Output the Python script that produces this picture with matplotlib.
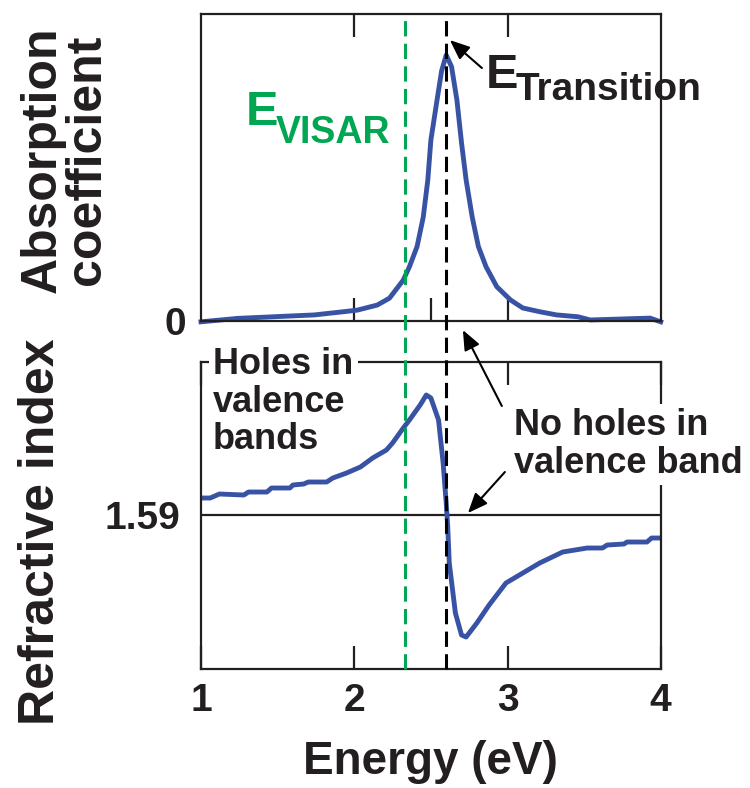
import matplotlib
matplotlib.use('Agg')
import matplotlib.pyplot as plt
from matplotlib.lines import Line2D
from matplotlib.transforms import blended_transform_factory

plt.rcParams['font.family'] = ['Liberation Sans', 'DejaVu Sans']
plt.rcParams['font.weight'] = 'bold'

BLUE = '#3953a4'
GREEN = '#00a651'
INK = '#231f20'

# absorption coefficient (arb. units)
abs_energy = [1.0, 1.24, 1.74, 1.93, 2.02, 2.15, 2.23, 2.32, 2.36, 2.41, 2.45, 2.48,
              2.50, 2.54, 2.57, 2.60, 2.635, 2.67, 2.70, 2.73, 2.77, 2.81, 2.86, 2.93,
              3.02, 3.10, 3.21, 3.32, 3.46, 3.54, 3.93, 4.0]
abs_value = [-0.003, 0.010, 0.023, 0.035, 0.041, 0.060, 0.086, 0.154, 0.204, 0.280, 0.390, 0.530,
             0.680, 0.830, 0.940, 1.000, 0.956, 0.830, 0.670, 0.530, 0.390, 0.280, 0.204, 0.129,
             0.079, 0.049, 0.035, 0.023, 0.016, 0.004, 0.011, -0.003]

# refractive index
n_energy = [1.0, 1.06, 1.12, 1.28, 1.31, 1.43, 1.46, 1.58, 1.60, 1.67, 1.70, 1.82, 1.86,
            1.95, 2.04, 2.12, 2.21, 2.25, 2.32, 2.36, 2.43, 2.47, 2.50, 2.55, 2.58, 2.60,
            2.61, 2.62, 2.66, 2.70, 2.73, 2.80, 2.88, 2.99, 3.10, 3.21, 3.36, 3.52, 3.62,
            3.65, 3.76, 3.78, 3.91, 3.94, 4.0]
n_value = [1.607, 1.607, 1.611, 1.610, 1.613, 1.613, 1.617, 1.617, 1.620, 1.621, 1.623, 1.623, 1.627,
           1.632, 1.638, 1.647, 1.655, 1.662, 1.677, 1.685, 1.700, 1.710, 1.707, 1.685, 1.642, 1.602,
           1.578, 1.542, 1.492, 1.470, 1.468, 1.482, 1.500, 1.522, 1.532, 1.542, 1.553, 1.557, 1.557,
           1.560, 1.561, 1.563, 1.563, 1.567, 1.567]

n_ref = 1.59
e_visar = 2.33
e_transition = 2.60

fig = plt.figure(figsize=(7.5, 7.88), dpi=100)
ax1 = fig.add_axes([0.268, 0.5926, 0.613, 0.3896])
ax2 = fig.add_axes([0.268, 0.151, 0.613, 0.3896])

for ax in (ax1, ax2):
    for sp in ax.spines.values():
        sp.set_linewidth(1.6)
        sp.set_color(INK)
    ax.set_xlim(1, 4)
    ax.set_xticks([2, 3])
    ax.tick_params(axis='x', which='both', direction='in', length=16.5, width=1.6,
                   top=True, bottom=True, color=INK)
    ax.tick_params(axis='y', length=0, labelsize=28, labelcolor=INK)

# top panel
ax1.plot(abs_energy, abs_value, color=BLUE, lw=3.5, clip_on=False, zorder=2,
         solid_joinstyle='round')
ax1.set_ylim(0, 1.154)
ax1.set_xticks([2.5], minor=True)
ax1.tick_params(axis='x', which='minor', top=False)
ax1.tick_params(axis='x', labelbottom=False)
ax1.set_yticks([0])
ax1.set_yticklabels(['0'])
ax1.tick_params(axis='y', pad=11)

# bottom panel
ax2.plot(n_energy, n_value, color=BLUE, lw=3.5, zorder=2, solid_joinstyle='round')
ax2.axhline(n_ref, color=INK, lw=1.6, zorder=1.5)
ax2.set_ylim(1.436, 1.743)
ax2.set_xticks([1, 2, 3, 4])
ax2.set_xticklabels(['1', '2', '3', '4'])
ax2.tick_params(axis='x', labelsize=28, pad=10, labelcolor=INK)
ax2.set_yticks([n_ref])
ax2.set_yticklabels(['1.59'])
ax2.tick_params(axis='y', pad=15)

# vertical dashed markers through both panels
tr = blended_transform_factory(ax1.transData, fig.transFigure)
fig.add_artist(Line2D([e_visar, e_visar], [0.151, 0.9822], transform=tr, color=GREEN,
                      lw=2.2, dashes=(5, 2.4)))
fig.add_artist(Line2D([e_transition, e_transition], [0.151, 0.9822], transform=tr, color='black',
                      lw=2.2, dashes=(5, 2.4)))

# labels
fig.text(0.087, 0.797, 'Absorption\ncoefficient', rotation=90, ha='center', va='center',
         fontsize=36, linespacing=0.95, color=INK)
fig.text(0.055, 0.325, 'Refractive index', rotation=90, ha='center', va='center',
         fontsize=36, color=INK)
fig.text(0.574, 0.005, 'Energy (eV)', ha='center', va='bottom', fontsize=33, color=INK)

ax1.text(1.29, 0.735, 'E', color=GREEN, fontsize=35, ha='left', va='baseline')
ax1.text(1.49, 0.67, 'VISAR', color=GREEN, fontsize=27, ha='left', va='baseline')
ax1.text(2.86, 0.875, 'E', color=INK, fontsize=35, ha='left', va='baseline')
ax1.text(3.05, 0.83, 'Transition', color=INK, fontsize=28, ha='left', va='baseline')

arrow = dict(arrowstyle='-|>,head_length=0.6,head_width=0.25', mutation_scale=20,
             lw=1.5, color='black', shrinkA=0, shrinkB=0)
ax1.annotate('', xy=(2.624, 1.056), xytext=(2.833, 0.951), arrowprops=arrow,
             annotation_clip=False)

box = dict(boxstyle='square,pad=0.12', fc='white', ec='none')
ax2.text(1.078, 1.758, 'Holes in\nvalence\nbands', fontsize=26, ha='left', va='top',
         linespacing=1.1, color=INK, bbox=box, zorder=5)
ax2.text(3.042, 1.697, 'No holes in\nvalence band', fontsize=26, ha='left', va='top',
         linespacing=1.1, color=INK, bbox=box, zorder=5)
ax2.annotate('', xy=(2.709, -0.034), xycoords=ax1.transData, xytext=(2.963, 1.699),
             textcoords=ax2.transData, arrowprops=arrow, annotation_clip=False)
ax2.annotate('', xy=(2.742, 1.592), xytext=(2.983, 1.633), arrowprops=arrow,
             annotation_clip=False)

fig.savefig('out.png', dpi=100)
